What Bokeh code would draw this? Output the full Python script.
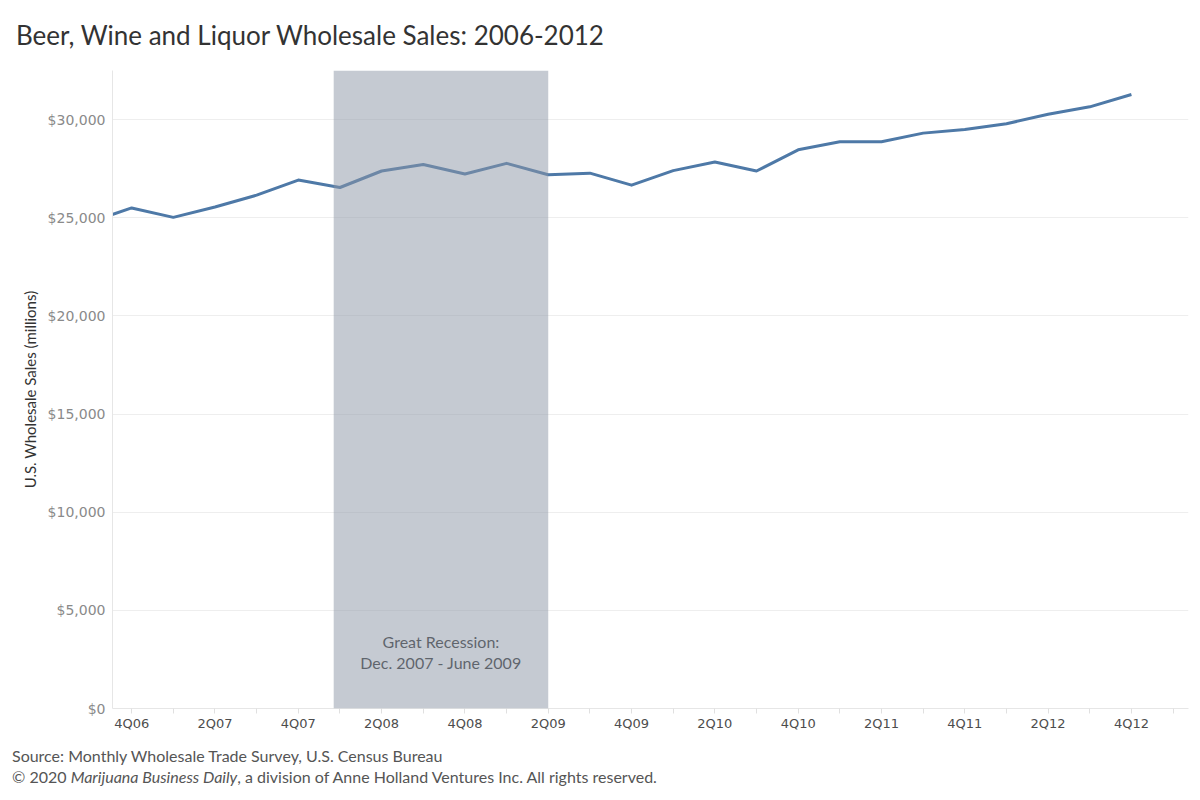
from bokeh.plotting import figure
from bokeh.models import (Range1d, FixedTicker, NumeralTickFormatter, BoxAnnotation,
                          ColumnDataSource, Div)
from bokeh.layouts import column
from bokeh.core.properties import value
from bokeh.embed import file_html
from bokeh.resources import INLINE

# ---- data ----
quarters = ["3Q06", "4Q06", "1Q07", "2Q07", "3Q07", "4Q07", "1Q08", "2Q08", "3Q08",
            "4Q08", "1Q09", "2Q09", "3Q09", "4Q09", "1Q10", "2Q10", "3Q10", "4Q10",
            "1Q11", "2Q11", "3Q11", "4Q11", "1Q12", "2Q12", "3Q12", "4Q12"]
sales = [24770, 25500, 25020, 25550, 26150, 26920, 26540, 27380, 27710, 27230, 27770,
         27190, 27270, 26660, 27400, 27840, 27380, 28460, 28870, 28870, 29310, 29500,
         29790, 30270, 30650, 31280]
y_ticks = [0, 5000, 10000, 15000, 20000, 25000, 30000]
recession_start = 4.85   # ~Dec 2007 on quarter index (4Q06 = 0)
recession_end = 10.0     # 2Q09
recession_text = "Great Recession:\nDec. 2007 - June 2009"

title = "Beer, Wine and Liquor Wholesale Sales: 2006-2012"
source_text = "Source: Monthly Wholesale Trade Survey, U.S. Census Bureau"
copyright_pre = "\u00a9 2020"
copyright_pub = "Marijuana Business Daily"
copyright_post = ", a division of Anne Holland Ventures Inc. All rights reserved."

# quarter index: 4Q06 = 0
xs = [i - 1 for i in range(len(quarters))]
src = ColumnDataSource(dict(x=xs, y=sales, q=quarters))

W = 1192
TITLE_H = 56
FIG_H = 684
FL, FR = 112, 1188
p = figure(width=W, height=FIG_H, output_backend="svg", toolbar_location=None,
           x_range=Range1d(-0.46, 25.37), y_range=Range1d(0, 32500),
           min_border_left=FL, min_border_right=W - FR, min_border_top=70 - TITLE_H,
           min_border_bottom=FIG_H - (708 - TITLE_H))
p.outline_line_color = None
p.background_fill_color = "white"
p.border_fill_color = "white"

rec = BoxAnnotation(left=recession_start, right=recession_end,
                    fill_color="#8c96a5", fill_alpha=0.5, line_color=None)
p.add_layout(rec)

p.line("x", "y", source=src, line_color="#4e79a7", line_width=3, line_join="round")

mid = (recession_start + recession_end) / 2
p.text(x=[mid, mid], y=[3420, 2350], text=recession_text.split("\n"),
       text_font=value("Lato"), text_font_size="16px", text_color="#333333",
       text_align="center", text_baseline="middle")

# x axis
major = [x for x in xs if x >= 0 and x % 2 == 0]
minor = [x for x in xs if x >= 0 and x % 2 == 1] + [25]
p.xaxis.ticker = FixedTicker(ticks=major, minor_ticks=minor)
p.xaxis.major_label_overrides = {x: q for x, q in zip(xs, quarters)}
p.xaxis.major_label_text_font = "DejaVu Sans"
p.xaxis.major_label_text_font_size = "13px"
p.xaxis.major_label_text_color = "#4d4d4d"
p.xaxis.axis_line_color = "#e6e6e6"
p.xaxis.major_tick_line_color = "#e0e0e0"
p.xaxis.minor_tick_line_color = "#e0e0e0"
p.xaxis.major_tick_out = 5
p.xaxis.major_tick_in = 0
p.xaxis.minor_tick_out = 5
p.xaxis.minor_tick_in = 0
p.xaxis.major_label_standoff = 2
p.xgrid.grid_line_color = None

# y axis
p.yaxis.ticker = FixedTicker(ticks=y_ticks)
p.yaxis.formatter = NumeralTickFormatter(format="$0,0")
p.yaxis.major_label_text_font = "DejaVu Sans"
p.yaxis.major_label_text_font_size = "14px"
p.yaxis.major_label_text_color = "#8a8a8a"
p.yaxis.axis_line_color = "#e6e6e6"
p.yaxis.major_tick_line_color = None
p.yaxis.minor_tick_line_color = None
p.yaxis.major_tick_out = 0
p.yaxis.major_label_standoff = 7
p.yaxis.axis_label = "U.S. Wholesale Sales (millions)"
p.yaxis.axis_label_text_font = "Lato"
p.yaxis.axis_label_text_font_size = "15px"
p.yaxis.axis_label_text_font_style = "normal"
p.yaxis.axis_label_text_color = "#333333"
p.yaxis.axis_label_standoff = 6
p.ygrid.grid_line_color = "#eeeeee"

title_div = Div(
    text=(f'<div style="font-family:Lato;font-size:26px;color:#333333;'
          f'line-height:30px;padding:20px 0 0 16px;margin:0;white-space:nowrap">{title}</div>'),
    width=W, height=TITLE_H, margin=0)

footer_div = Div(
    text=(f'<div style="font-family:Lato;font-size:16px;color:#555555;line-height:21px;'
          f'padding:5px 0 0 12px;margin:0;white-space:nowrap">{source_text}<br>'
          f'{copyright_pre} <i>{copyright_pub}</i>{copyright_post}</div>'),
    width=W, height=50, margin=0)

layout = column(title_div, p, footer_div, spacing=0)

open("out.html", "w").write(file_html(layout, INLINE))
